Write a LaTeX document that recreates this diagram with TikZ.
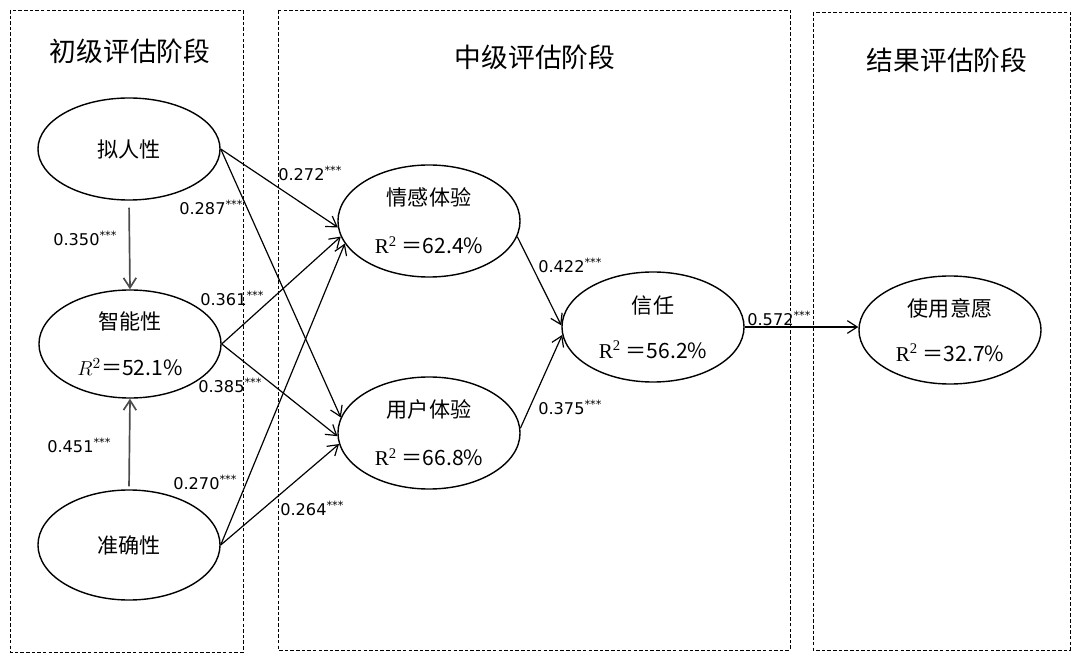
\documentclass[tikz,border=0pt]{standalone}
\usepackage{fontspec}
\setmainfont{Liberation Serif}
\newfontfamily\zhfont{Noto Sans CJK SC}
\newfontfamily\numfont{DejaVu Sans}
\usetikzlibrary{arrows.meta,shapes.geometric}

\tikzset{
  stage/.style={draw,dash pattern=on 2.5pt off 1.5pt,line width=0.7pt},
  stagetitle/.style={font=\zhfont\fontsize{19}{22}\selectfont},
  factor/.style={draw,ellipse,line width=1pt,minimum width=4.55cm,minimum height=2.7cm,
    inner sep=0pt,align=center,font=\zhfont\fontsize{15}{18}\selectfont},
  effect/.style={-{Straight Barb[length=7pt,width=9pt]},line width=0.85pt},
  coef/.style={anchor=west,inner sep=0pt,font=\numfont\fontsize{11.5}{13}\selectfont},
}

\begin{document}
\begin{tikzpicture}[x=0.025cm,y=-0.025cm]
		\useasboundingbox (0,0) rectangle (1080,662);

		% three stages
		\draw[stage] (10,10) rectangle (243,652);
		\draw[stage] (278,10) rectangle (790,650);
		\draw[stage] (813,12) rectangle (1070,650);
		\node[stagetitle] (t1) at (130,51) {初级评估阶段};
		\node[stagetitle] (t2) at (535,57) {中级评估阶段};
		\node[stagetitle] (t3) at (947,60) {结果评估阶段};

		% constructs
		\node[factor,minimum height=2.55cm] (anthro) at (129,149) {拟人性};
		\node[factor] (intel) at (130,344) {智能性\\[15pt]$R^2$＝52.1\%};
		\node[factor,minimum height=2.75cm] (accur) at (129,545) {准确性};
		\node[factor,minimum height=2.8cm] (emo) at (429,221) {情感体验\\[16pt]{\rmfamily R\textsuperscript{2}} ＝62.4\%};
		\node[factor,minimum height=2.8cm] (ux) at (429,433) {用户体验\\[16pt]{\rmfamily R\textsuperscript{2}} ＝66.8\%};
		\node[factor,minimum height=2.75cm] (trust) at (653,327) {信任\\[14pt]{\rmfamily R\textsuperscript{2}} ＝56.2\%};
		\node[factor] (intent) at (950,330) {使用意愿\\[14pt]{\rmfamily R\textsuperscript{2}} ＝32.7\%};

		% paths
		\draw[effect,draw=black!70,line width=1.2pt,shorten <=5pt] (anthro.south) -- (intel.north);
		\draw[effect,draw=black!70,line width=1.2pt,shorten <=2pt] (accur.north) -- (intel.south);
		\draw[effect] (anthro.east) -- (emo.184);
		\draw[effect] (anthro.east) -- (ux.170);
		\draw[effect] (intel.east) -- (emo.190);
		\draw[effect] (intel.east) -- (ux.182);
		\draw[effect] (accur.east) -- (emo.195);
		\draw[effect] (accur.east) -- (ux.187);
		\draw[effect] (emo.350) -- (trust.179);
		\draw[effect] (ux.3) -- (trust.185);
		\draw[effect] (trust.east) -- (trust.east -| intent.west);

		% coefficients
		\node[coef] (c350) at (53,238) {0.350\textsuperscript{***}};
		\node[coef] (c451) at (47,445) {0.451\textsuperscript{***}};
		\node[coef] (c272) at (278,173) {0.272\textsuperscript{***}};
		\node[coef] (c287) at (179,207) {0.287\textsuperscript{***}};
		\node[coef] (c361) at (200,298) {0.361\textsuperscript{***}};
		\node[coef] (c385) at (198,385) {0.385\textsuperscript{***}};
		\node[coef] (c270) at (173,482) {0.270\textsuperscript{***}};
		\node[coef] (c264) at (280,508) {0.264\textsuperscript{***}};
		\node[coef] (c422) at (538,265) {0.422\textsuperscript{***}};
		\node[coef] (c375) at (538,407) {0.375\textsuperscript{***}};
		\node[coef] (c572) at (747,318) {0.572\textsuperscript{***}};
	\end{tikzpicture}
\end{document}
